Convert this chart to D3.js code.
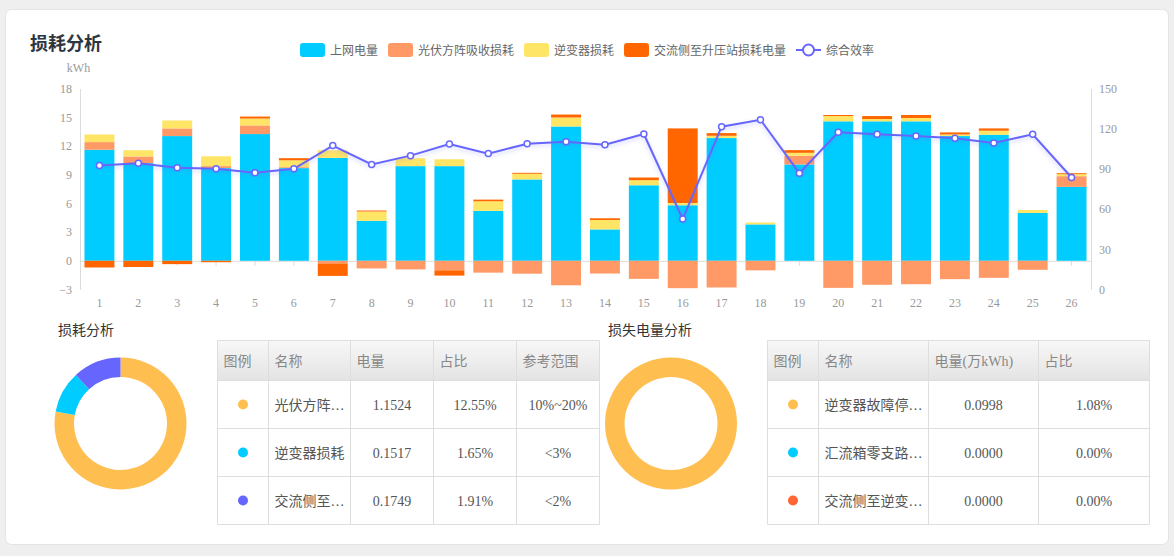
<!DOCTYPE html>
<html><head><meta charset="utf-8">
<script src="https://cdn.jsdelivr.net/npm/d3@7"></script>
<style>
html,body{margin:0;padding:0;background:#efefef;}
svg{display:block;}
</style></head>
<body>
<svg id="c" width="1174" height="556"></svg>
<script>
// ---------- data ----------
const days = d3.range(1, 27).map(String);
const gridPower = [11.6,10.2,13.03,9.68,13.24,9.68,10.75,4.18,9.89,9.89,5.22,8.5,14.03,3.28,7.89,5.8,12.82,3.8,10.06,14.57,14.57,14.57,13.03,13.17,5.0,7.72];
const pvLoss    = [0.8,0.7,0.8,0.21,0.9,0.1,-0.28,-0.8,-0.9,-1.0,-1.24,-1.35,-2.56,-1.33,-1.89,-2.86,-2.79,-1.0,0.91,-2.83,-2.51,-2.45,-1.92,-1.78,-0.94,1.12];
const invLoss   = [0.8,0.65,0.83,1.03,0.72,0.72,0.8,0.97,0.83,0.72,1.0,0.59,0.94,0.98,0.53,0.24,0.24,0.2,0.31,0.55,0.24,0.35,0.17,0.42,0.31,0.21];
const acLoss    = [-0.7,-0.65,-0.35,-0.15,0.21,0.22,-1.3,0.1,0,-0.55,0.17,0.1,0.31,0.18,0.28,7.79,0.28,0,0.28,0.11,0.31,0.31,0.21,0.24,0,0.1];
const efficiency= [92.5,94.3,90.8,90.1,87.1,90.1,107.4,93.3,99.9,108.6,101.4,108.8,110.3,108,116,52.6,121.5,126.7,86.8,117.3,115.8,114.5,112.8,109.3,115.8,83.6];
const seriesNames = ["上网电量","光伏方阵吸收损耗","逆变器损耗","交流侧至升压站损耗电量"];
const lineName = "综合效率";
const leftTicks = [-3,0,3,6,9,12,15,18];
const rightTicks = [0,30,60,90,120,150];

const lossNames   = ["光伏方阵…","逆变器损耗","交流侧至…"];
const lossValues  = [1.1524,0.1517,0.1749];
const lossShares  = ["12.55%","1.65%","1.91%"];
const lossRanges  = ["10%~20%","<3%","<2%"];
const lostNames   = ["逆变器故障停…","汇流箱零支路…","交流侧至逆变…"];
const lostValues  = [0.0998,0.0000,0.0000];
const lostShares  = ["1.08%","0.00%","0.00%"];
const head1 = ["图例","名称","电量","占比","参考范围"];
const head2 = ["图例","名称","电量(万kWh)","占比"];

// ---------- style ----------
const colors = ["#00ccff","#ff9966","#ffe566","#ff6600"];
const lineColor = "#6666ff";
const pie1Colors = ["#ffbf50","#00ccff","#6666ff"];
const pie2Colors = ["#ffbf50","#00ccff","#ff6633"];
const CJK = "'Noto Sans CJK SC','Noto Sans',sans-serif";
const SERIF = "'Liberation Serif','Noto Sans CJK SC',serif";

const svg = d3.select("#c");
const defs = svg.append("defs");
const hg = defs.append("linearGradient").attr("id","hg").attr("x1",0).attr("y1",0).attr("x2",0).attr("y2",1);
hg.append("stop").attr("offset","0").attr("stop-color","#f8f8f8");
hg.append("stop").attr("offset","1").attr("stop-color","#e3e3e3");
const sh = defs.append("filter").attr("id","sh").attr("x","-5%").attr("y","-20%").attr("width","110%").attr("height","140%");
sh.append("feDropShadow").attr("dx",0).attr("dy",2).attr("stdDeviation",2).attr("flood-color","#6666ff").attr("flood-opacity",0.3);

// card
svg.append("rect").attr("x",5.5).attr("y",9.5).attr("width",1163).attr("height",535).attr("rx",6)
  .attr("fill","#fff").attr("stroke","#e4e4e4");

// title
svg.append("text").attr("x",30).attr("y",50).text("损耗分析")
  .attr("font-family",CJK).attr("font-size",18).attr("font-weight","bold").attr("fill","#2d3640");

// ---------- scales ----------
const x = d3.scaleBand().domain(days).range([80,1091]).paddingInner(0.23).paddingOuter(0.115);
const yL = d3.scaleLinear().domain([-3,18]).range([289.5,88.5]);
const yR = d3.scaleLinear().domain([0,150]).range([289.5,88.5]);

// axes
const gL = svg.append("g").attr("transform","translate(80,0)")
  .call(d3.axisLeft(yL).tickValues(leftTicks).tickSize(0).tickPadding(8));
const gR = svg.append("g").attr("transform","translate(1091,0)")
  .call(d3.axisRight(yR).tickValues(rightTicks).tickSize(0).tickPadding(8));
const gB = svg.append("g").attr("transform","translate(0,289.5)")
  .call(d3.axisBottom(x).tickSize(0).tickPadding(9));
gB.select(".domain").remove();
const gZ = svg.append("g").attr("transform",`translate(0,${yL(0)})`)
  .call(d3.axisBottom(x).tickSize(5).tickSizeOuter(0).tickFormat(""));
[gL,gR,gB,gZ].forEach(g=>{
  g.selectAll(".domain").attr("stroke","#dcdcdc");
  g.selectAll(".tick line").attr("stroke","#dcdcdc");
  g.selectAll("text").attr("fill","#999").attr("font-family",SERIF).attr("font-size",12);
});
svg.append("text").attr("x",78.5).attr("y",72).attr("text-anchor","middle").text("kWh")
  .attr("fill","#999").attr("font-family",SERIF).attr("font-size",12);

// ---------- bars ----------
const table = days.map((d,i)=>({day:d, s0:gridPower[i], s1:pvLoss[i], s2:invLoss[i], s3:acLoss[i]}));
const stack = d3.stack().keys(["s0","s1","s2","s3"]).offset(d3.stackOffsetDiverging);
const layers = stack(table);
svg.append("g").selectAll("g").data(layers).join("g").attr("fill",(d,i)=>colors[i])
  .selectAll("rect").data(d=>d).join("rect")
  .attr("x",d=>x(d.data.day)).attr("width",x.bandwidth())
  .attr("y",d=>yL(Math.max(d[0],d[1])))
  .attr("height",d=>Math.abs(yL(d[0])-yL(d[1])));

// ---------- line ----------
const cx = d=>x(d)+x.bandwidth()/2;
const line = d3.line().x((v,i)=>cx(days[i])).y(v=>yR(v));
svg.append("path").datum(efficiency).attr("d",line).attr("fill","none")
  .attr("stroke",lineColor).attr("stroke-width",2).attr("filter","url(#sh)");
svg.append("g").selectAll("circle").data(efficiency).join("circle")
  .attr("cx",(v,i)=>cx(days[i])).attr("cy",v=>yR(v)).attr("r",3)
  .attr("fill","#fff").attr("stroke",lineColor).attr("stroke-width",1.5);

// ---------- legend ----------
const lg = svg.append("g").attr("font-family",CJK).attr("font-size",12);
let lx = 300;
seriesNames.forEach((n,i)=>{
  lg.append("rect").attr("x",lx).attr("y",43).attr("width",25).attr("height",14).attr("rx",3).attr("fill",colors[i]);
  lg.append("text").attr("x",lx+30).attr("y",54.5).attr("fill","#666").text(n);
  lx += 30 + n.length*12 + 10;
});
lg.append("line").attr("x1",lx).attr("x2",lx+25).attr("y1",50).attr("y2",50).attr("stroke",lineColor).attr("stroke-width",2);
lg.append("circle").attr("cx",lx+12.5).attr("cy",50).attr("r",5.5).attr("fill","#fff").attr("stroke",lineColor).attr("stroke-width",2);
lg.append("text").attr("x",lx+30).attr("y",54.5).attr("fill","#666").text(lineName);

// ---------- bottom section ----------
svg.append("text").attr("x",58).attr("y",335).text("损耗分析").attr("font-family",CJK).attr("font-size",14).attr("fill","#333");
svg.append("text").attr("x",608).attr("y",335).text("损失电量分析").attr("font-family",CJK).attr("font-size",14).attr("fill","#333");

const pie = d3.pie().sort(null).value(d=>d);
const arc = d3.arc().innerRadius(46.5).outerRadius(66);
function donut(cxp, cyp, vals, cols){
  svg.append("g").attr("transform",`translate(${cxp},${cyp})`)
    .selectAll("path").data(pie(vals)).join("path").attr("d",arc).attr("fill",(d,i)=>cols[i]);
}
donut(120.5, 423.5, lossValues, pie1Colors);
donut(671, 423.5, lostValues, pie2Colors);

function drawTable(edges, heads, rows, dotColors){
  const rowsY = [340.5,380.5,428.5,476.5,524.5];
  const g = svg.append("g");
  g.append("rect").attr("x",edges[0]).attr("y",rowsY[0]).attr("width",edges[edges.length-1]-edges[0]).attr("height",rowsY[1]-rowsY[0]).attr("fill","url(#hg)");
  rowsY.forEach(yy=>g.append("line").attr("x1",edges[0]).attr("x2",edges[edges.length-1]).attr("y1",yy).attr("y2",yy).attr("stroke","#dedede"));
  edges.forEach(xx=>g.append("line").attr("x1",xx).attr("x2",xx).attr("y1",rowsY[0]).attr("y2",rowsY[rowsY.length-1]).attr("stroke","#dedede"));
  heads.forEach((h,j)=>g.append("text").attr("x",edges[j]+6).attr("y",365.5).text(h)
    .attr("font-family",SERIF).attr("font-size",14).attr("fill","#888"));
  rows.forEach((r,i)=>{
    const cy = (rowsY[i+1]+rowsY[i+2])/2;
    g.append("circle").attr("cx",(edges[0]+edges[1])/2).attr("cy",cy).attr("r",5).attr("fill",dotColors[i]);
    const t = g.append("text").attr("x",edges[1]+6).attr("y",cy+5)
      .attr("font-family",CJK).attr("font-size",14).attr("fill","#555");
    const name = r[0];
    if (name.endsWith("…")) {
      t.append("tspan").text(name.slice(0,-1));
      t.append("tspan").attr("font-family",SERIF).text("…");
    } else {
      t.text(name);
    }
    for(let j=1;j<r.length;j++){
      g.append("text").attr("x",(edges[j+1]+edges[j+2])/2).attr("y",cy+5).attr("text-anchor","middle").text(r[j])
        .attr("font-family",SERIF).attr("font-size",14).attr("fill","#555");
    }
  });
}
drawTable([217.5,268.5,350.5,433.5,516.5,599.5], head1,
  lossNames.map((n,i)=>[n, lossValues[i].toFixed(4), lossShares[i], lossRanges[i]]), pie1Colors);
drawTable([767.5,818.5,928.5,1038.5,1149.5], head2,
  lostNames.map((n,i)=>[n, lostValues[i].toFixed(4), lostShares[i]]), pie2Colors);
</script>
</body></html>
